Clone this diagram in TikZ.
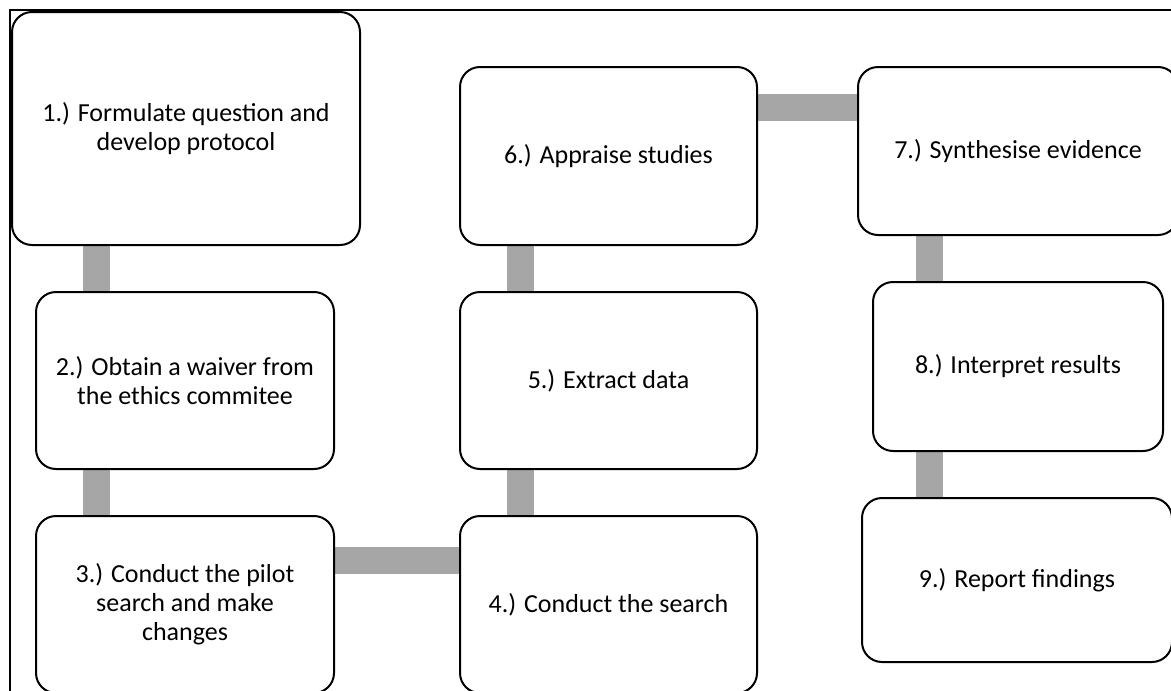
\documentclass[tikz,border=0pt]{standalone}
\usepackage{fontspec}
\setmainfont{Carlito}
\usepackage{tikz}
\usetikzlibrary{backgrounds}
\definecolor{linkgray}{RGB}{166,166,166}

\begin{document}
\begin{tikzpicture}[x=1pt,y=-1pt,
		stage/.style={draw,line width=2pt,rounded corners=20pt,fill=white,align=center,inner sep=0pt,font=\fontsize{26}{29}\selectfont},
		link/.style={draw=linkgray,line width=27pt}]
				\useasboundingbox (0,0) rectangle (1171,691);
				\clip (0,0) rectangle (1171,691);
				\draw[line width=2pt] (1171,10) -- (10,10) -- (10,691);

				\node[stage,minimum width=348pt,minimum height=233pt] (s1) at (186,128.5) {1.) Formulate question and\\develop protocol};
				\node[stage,minimum width=298pt,minimum height=177pt] (s2) at (185,380.5) {2.) Obtain a waiver from\\the ethics commitee};
				\node[stage,minimum width=298pt,minimum height=177pt] (s3) at (185,604.5) {3.) Conduct the pilot\\search and make\\changes};
				\node[stage,minimum width=297pt,minimum height=177pt] (s4) at (608.5,604.5) {4.) Conduct the search};
				\node[stage,minimum width=297pt,minimum height=177pt] (s5) at (608.5,380.5) {5.) Extract data};
				\node[stage,minimum width=297pt,minimum height=178pt] (s6) at (608.5,156) {6.) Appraise studies};
				\node[stage,minimum width=320pt,minimum height=168pt] (s7) at (1018,151) {7.) Synthesise evidence};
				\node[stage,minimum width=290pt,minimum height=169pt] (s8) at (1018,366.5) {8.) Interpret results};
				\node[stage,minimum width=310pt,minimum height=164pt] (s9) at (1017,580) {9.) Report findings};

				\coordinate (laneA) at (96.5,0);
				\coordinate (laneB) at (520.5,0);
				\coordinate (laneC) at (929.5,0);
				\coordinate (rowA) at (0,560);
				\coordinate (rowB) at (0,107);

				\begin{pgfonlayer}{background}
				\draw[link] (s1.south -| laneA) -- (s2.north -| laneA);
				\draw[link] (s2.south -| laneA) -- (s3.north -| laneA);
				\draw[link] (s3.east |- rowA) -- (s4.west |- rowA);
				\draw[link] (s4.north -| laneB) -- (s5.south -| laneB);
				\draw[link] (s5.north -| laneB) -- (s6.south -| laneB);
				\draw[link] (s6.east |- rowB) -- (s7.west |- rowB);
				\draw[link] (s7.south -| laneC) -- (s8.north -| laneC);
				\draw[link] (s8.south -| laneC) -- (s9.north -| laneC);
				\end{pgfonlayer}
			\end{tikzpicture}
\end{document}
